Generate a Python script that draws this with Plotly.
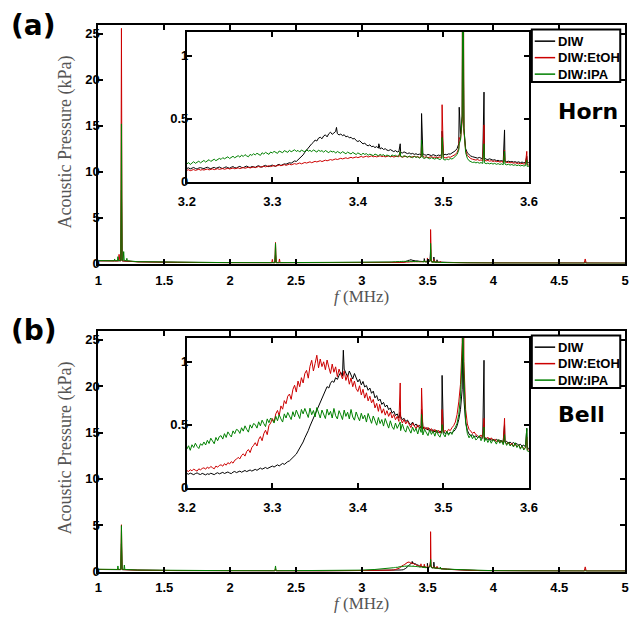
import numpy as np
import plotly.graph_objects as go

W, H = 638, 619

series_names = ["DIW", "DIW:EtOH", "DIW:IPA"]
series_colors = ["#000000", "#cc0000", "#008000"]

# Fine 2 kHz sampling of the 3.2-3.6 MHz window (shared by inset and main plot)
inset_f = np.linspace(3.2, 3.6, 201)

# ---------------- (a) Horn ----------------
# coarse spectrum below / above the fine window, kPa
horn_low_f = [1.0, 1.1, 1.12, 1.123, 1.127, 1.145, 1.148, 1.152, 1.157, 1.163, 1.17, 1.175,
              1.18, 1.188, 1.192, 1.196, 1.212, 1.216, 1.22, 1.3, 1.6, 2.0, 2.316, 2.321,
              2.326, 2.34, 2.345, 2.35, 2.37, 2.375, 2.38, 2.7, 3.0, 3.1]
horn_low_diw = [0.30, 0.26, 0.26, 0.26, 0.26, 0.27, 0.27, 0.27, 0.28, 0.28, 0.30, 8.0,
                0.30, 0.28, 0.28, 0.28, 0.26, 0.26, 0.26, 0.20, 0.13, 0.09, 0.09, 0.09,
                0.09, 0.09, 1.0, 0.09, 0.09, 0.09, 0.09, 0.07, 0.08, 0.09]
horn_low_etoh = [0.30, 0.27, 0.27, 0.27, 0.27, 0.28, 0.28, 0.28, 1.0, 0.28, 0.30, 25.6,
                 0.30, 0.28, 0.28, 0.28, 0.26, 0.26, 0.26, 0.18, 0.12, 0.08, 0.08, 0.45,
                 0.08, 0.08, 2.3, 0.08, 0.08, 0.5, 0.08, 0.07, 0.07, 0.08]
horn_low_ipa = [0.32, 0.30, 0.30, 0.5, 0.30, 0.32, 0.75, 0.32, 0.33, 0.33, 0.35, 15.2,
                0.35, 0.35, 1.3, 0.35, 0.30, 0.57, 0.30, 0.20, 0.14, 0.10, 0.10, 0.10,
                0.10, 0.10, 2.2, 0.10, 0.10, 0.10, 0.10, 0.09, 0.10, 0.12]

horn_high_f = [3.65, 3.7, 3.8, 4.0, 4.3, 4.69, 4.697, 4.705, 5.0]
horn_high_diw = [0.13, 0.10, 0.08, 0.06, 0.05, 0.05, 0.20, 0.05, 0.04]
horn_high_etoh = [0.11, 0.09, 0.07, 0.06, 0.05, 0.05, 0.50, 0.05, 0.04]
horn_high_ipa = [0.10, 0.08, 0.07, 0.05, 0.04, 0.04, 0.04, 0.04, 0.03]

# fine window, Pa
horn_diw_pa = [
    105, 109, 101, 107, 112, 104, 100, 108, 111, 106,
    103, 110, 114, 107, 102, 109, 113, 105, 110, 116,
    108, 104, 112, 117, 110, 106, 114, 119, 111, 108,
    116, 121, 113, 110, 118, 123, 115, 112, 120, 117,
    113, 122, 126, 118, 115, 124, 129, 121, 119, 127,
    131, 124, 122, 133, 137, 128, 134, 141, 138, 145,
    150, 146, 157, 164, 160, 172, 185, 196, 212, 233,
    251, 268, 284, 300, 312, 330, 322, 345, 352, 340,
    362, 371, 355, 380, 392, 375, 386, 398, 381, 370,
    378, 364, 372, 355, 361, 347, 352, 338, 343, 326,
    318, 325, 308, 299, 306, 290, 284, 292, 277, 281,
    270, 278, 266, 259, 268, 255, 261, 250, 246, 254,
    243, 238, 246, 235, 240, 231, 227, 236, 229, 222,
    228, 219, 224, 216, 221, 214, 218, 211, 220, 213,
    209, 216, 212, 206, 214, 208, 203, 211, 207, 215,
    210, 217, 213, 220, 218, 226, 232, 245, 262, 300,
    380, 520, 420, 262, 228, 212, 203, 198, 193, 190,
    186, 192, 184, 180, 187, 178, 175, 181, 172, 170,
    174, 166, 169, 163, 167, 160, 164, 158, 162, 157,
    160, 155, 158, 152, 157, 150, 155, 149, 153, 151,
    150]
horn_etoh_pa = [
    90, 94, 87, 92, 96, 89, 93, 98, 91, 95,
    92, 97, 100, 93, 96, 101, 95, 99, 103, 97,
    100, 104, 98, 102, 106, 100, 104, 108, 102, 106,
    109, 103, 107, 112, 106, 110, 114, 108, 113, 117,
    111, 115, 120, 114, 118, 123, 117, 121, 126, 119,
    123, 128, 122, 127, 132, 126, 130, 135, 129, 134,
    139, 133, 137, 143, 138, 142, 148, 141, 146, 152,
    147, 151, 157, 150, 155, 161, 156, 160, 166, 159,
    164, 170, 165, 169, 175, 170, 174, 180, 175, 179,
    185, 180, 184, 189, 183, 188, 193, 187, 191, 196,
    190, 195, 200, 193, 198, 202, 195, 199, 204, 197,
    201, 196, 200, 205, 198, 202, 196, 200, 204, 197,
    201, 195, 199, 203, 196, 200, 194, 198, 202, 195,
    199, 193, 197, 201, 194, 198, 192, 196, 200, 193,
    197, 190, 194, 198, 191, 195, 189, 193, 196, 190,
    194, 188, 192, 196, 193, 199, 205, 215, 232, 265,
    330, 480, 400, 245, 208, 192, 183, 178, 174, 171,
    175, 168, 172, 166, 170, 164, 168, 162, 166, 160,
    164, 158, 161, 155, 159, 153, 157, 151, 154, 149,
    152, 146, 150, 144, 147, 141, 145, 139, 142, 136,
    131]
horn_ipa_pa = [
    140, 151, 136, 147, 158, 145, 153, 162, 149, 157,
    168, 155, 163, 174, 160, 171, 178, 166, 175, 184,
    176, 190, 181, 188, 197, 183, 193, 201, 189, 198,
    206, 194, 210, 199, 214, 204, 197, 216, 208, 221,
    212, 225, 215, 208, 229, 219, 232, 222, 216, 235,
    227, 240, 231, 224, 243, 236, 229, 246, 238, 232,
    249, 237, 244, 253, 239, 248, 234, 251, 242, 236,
    254, 241, 248, 237, 252, 243, 234, 250, 240, 246,
    233, 247, 238, 229, 244, 235, 241, 226, 239, 231,
    224, 238, 229, 221, 234, 226, 219, 232, 223, 215,
    228, 219, 212, 225, 216, 222, 209, 218, 213, 206,
    219, 211, 205, 216, 208, 214, 202, 211, 206, 199,
    212, 204, 209, 198, 207, 201, 195, 206, 199, 193,
    203, 196, 190, 200, 193, 197, 186, 195, 189, 183,
    194, 187, 181, 190, 184, 178, 188, 180, 175, 184,
    177, 171, 180, 174, 183, 179, 188, 198, 215, 250,
    330, 520, 430, 230, 185, 166, 158, 152, 155, 149,
    153, 146, 151, 144, 149, 142, 147, 141, 146, 139,
    145, 137, 143, 136, 141, 134, 139, 133, 138, 131,
    136, 129, 134, 127, 132, 125, 130, 124, 127, 121,
    122]

# narrow resonance lines inside the window, kPa (None = no line for that liquid)
horn_peak_f = [3.375, 3.4245, 3.4495, 3.4745, 3.4985, 3.5185, 3.5227, 3.5475, 3.5715, 3.5975]
horn_peak_diw = [0.43, 0.30, 0.30, 0.54, 0.40, 0.59, 1.50, 0.71, 0.41, 0.20]
horn_peak_etoh = [None, None, 0.24, 0.30, 0.61, 0.35, 3.70, 0.45, 0.25, 0.24]
horn_peak_ipa = [None, None, 0.24, 0.33, 0.35, 0.30, 2.20, 0.30, 0.24, 0.17]

# ---------------- (b) Bell ----------------
bell_low_f = [1.0, 1.1, 1.145, 1.148, 1.152, 1.17, 1.175, 1.18, 1.193, 1.197, 1.201, 1.3,
              1.6, 2.0, 2.34, 2.345, 2.35, 2.7, 2.9, 3.0, 3.1]
bell_low_diw = [0.22, 0.20, 0.20, 0.20, 0.20, 0.20, 3.0, 0.20, 0.20, 0.20, 0.20, 0.15,
                0.10, 0.08, 0.07, 0.20, 0.07, 0.06, 0.07, 0.08, 0.10]
bell_low_etoh = [0.22, 0.20, 0.20, 0.20, 0.20, 0.22, 5.05, 0.22, 0.20, 0.20, 0.20, 0.15,
                 0.10, 0.08, 0.07, 0.30, 0.07, 0.06, 0.07, 0.08, 0.11]
bell_low_ipa = [0.25, 0.22, 0.22, 0.60, 0.22, 0.24, 4.95, 0.24, 0.22, 0.70, 0.22, 0.16,
                0.11, 0.09, 0.08, 0.60, 0.08, 0.08, 0.10, 0.15, 0.22]

bell_high_f = [3.65, 3.7, 3.8, 3.9, 4.0, 4.3, 4.69, 4.697, 4.705, 5.0]
bell_high_diw = [0.26, 0.20, 0.14, 0.10, 0.08, 0.06, 0.05, 0.20, 0.05, 0.05]
bell_high_etoh = [0.25, 0.20, 0.13, 0.10, 0.08, 0.06, 0.05, 0.50, 0.05, 0.05]
bell_high_ipa = [0.25, 0.22, 0.17, 0.12, 0.09, 0.06, 0.05, 0.05, 0.05, 0.04]

bell_diw_pa = [
    112, 106, 115, 109, 103, 111, 117, 108, 104, 113,
    107, 101, 110, 105, 114, 108, 103, 112, 118, 109,
    115, 121, 112, 118, 124, 116, 111, 123, 128, 119,
    126, 131, 122, 129, 136, 127, 133, 140, 131, 138,
    145, 137, 149, 155, 146, 152, 160, 151, 158, 166,
    171, 163, 175, 181, 172, 186, 192, 184, 199, 206,
    212, 224, 235, 251, 266, 290, 312, 338, 362, 395,
    420, 452, 488, 520, 548, 590, 622, 650, 685, 718,
    752, 775, 801, 790, 828, 846, 835, 872, 858, 890,
    915, 884, 940, 905, 878, 925, 896, 862, 905, 870,
    838, 860, 815, 842, 798, 810, 772, 790, 748, 765,
    712, 730, 688, 702, 660, 676, 640, 655, 618, 632,
    590, 606, 572, 585, 552, 566, 538, 550, 524, 536,
    512, 498, 520, 490, 505, 482, 494, 470, 486, 462,
    476, 455, 468, 448, 460, 441, 456, 436, 450, 432,
    446, 428, 440, 425, 438, 432, 445, 460, 490, 540,
    620, 780, 700, 520, 455, 425, 412, 420, 402, 410,
    398, 406, 391, 400, 384, 395, 380, 390, 376, 386,
    372, 383, 368, 378, 362, 374, 358, 368, 352, 362,
    348, 358, 342, 350, 336, 344, 330, 338, 322, 316,
    310]
bell_etoh_pa = [
    135, 128, 142, 133, 147, 138, 131, 149, 141, 152,
    157, 146, 163, 152, 168, 158, 149, 171, 162, 176,
    181, 170, 190, 178, 198, 188, 206, 194, 217, 225,
    240, 228, 255, 268, 250, 287, 302, 278, 318, 335,
    356, 330, 382, 405, 372, 428, 455, 420, 492, 512,
    548, 520, 585, 612, 570, 648, 622, 690, 665, 725,
    742, 700, 778, 812, 758, 845, 800, 872, 830, 905,
    930, 868, 962, 1010, 925, 985, 1050, 950, 1020, 960,
    998, 935, 1012, 955, 905, 980, 915, 958, 880, 940,
    905, 862, 925, 850, 895, 820, 870, 800, 845, 785,
    762, 808, 735, 780, 710, 752, 688, 725, 672, 700,
    632, 668, 605, 648, 590, 625, 575, 610, 565, 598,
    552, 580, 538, 565, 525, 550, 512, 540, 505, 528,
    500, 476, 512, 485, 468, 498, 472, 490, 462, 482,
    460, 478, 448, 468, 440, 462, 436, 455, 432, 450,
    436, 455, 440, 462, 452, 475, 492, 520, 580, 680,
    820, 1150, 1000, 620, 505, 462, 448, 430, 441, 420,
    412, 398, 418, 392, 405, 384, 400, 378, 395, 372,
    386, 364, 380, 358, 372, 350, 366, 345, 360, 340,
    352, 330, 345, 322, 338, 315, 330, 308, 318, 302,
    298]
bell_ipa_pa = [
    305, 332, 296, 340, 318, 352, 326, 310, 348, 335,
    362, 338, 375, 350, 392, 366, 348, 398, 372, 405,
    412, 385, 428, 398, 442, 420, 402, 450, 428, 462,
    455, 430, 475, 448, 490, 462, 440, 498, 472, 508,
    500, 472, 522, 490, 535, 508, 484, 545, 515, 552,
    538, 512, 566, 530, 578, 545, 520, 585, 552, 596,
    570, 540, 602, 562, 615, 578, 548, 620, 585, 628,
    592, 556, 630, 578, 612, 560, 635, 590, 552, 615,
    580, 548, 622, 575, 605, 552, 628, 570, 545, 610,
    578, 540, 615, 565, 598, 545, 620, 560, 535, 600,
    562, 530, 590, 545, 575, 520, 588, 540, 510, 568,
    525, 495, 556, 508, 540, 488, 548, 500, 472, 530,
    485, 462, 512, 470, 498, 452, 505, 462, 440, 490,
    455, 432, 480, 445, 470, 425, 478, 438, 418, 462,
    435, 412, 458, 422, 448, 408, 455, 418, 400, 445,
    425, 402, 448, 415, 440, 422, 460, 478, 510, 580,
    720, 1050, 900, 520, 430, 395, 420, 388, 410, 378,
    390, 412, 372, 398, 365, 392, 358, 385, 352, 380,
    370, 345, 382, 352, 375, 340, 368, 335, 360, 330,
    345, 322, 356, 318, 340, 305, 332, 298, 318, 292,
    285]

bell_peak_f = [3.383, 3.4255, 3.4495, 3.4745, 3.4985, 3.5227, 3.5475, 3.5715, 3.5975]
bell_peak_diw = [1.09, None, 0.60, 0.62, 0.89, 1.25, 1.01, 0.50, 0.47]
bell_peak_etoh = [None, 0.66, 0.83, 0.79, 0.62, 4.30, 0.55, 0.55, 0.40]
bell_peak_ipa = [None, None, 0.52, 0.58, 0.50, 1.30, 0.48, 0.42, 0.47]


def spectrum(low_f, low_v, window_pa, peak_f, peak_v, high_f, high_v):
    """Join the coarse low band, the finely sampled window (with its narrow
    resonance lines) and the coarse high band into one spectrum in kPa."""
    pts = [(f, v / 1000.0) for f, v in zip(inset_f, window_pa)]
    pts += [(f, v) for f, v in zip(peak_f, peak_v) if v is not None]
    pts.sort()
    mid_f, mid_v = zip(*pts)
    return (list(low_f) + list(mid_f) + list(high_f),
            list(low_v) + list(mid_v) + list(high_v))


panels = [
    dict(low_f=horn_low_f, high_f=horn_high_f, peak_f=horn_peak_f,
         series=[(horn_low_diw, horn_diw_pa, horn_peak_diw, horn_high_diw),
                 (horn_low_etoh, horn_etoh_pa, horn_peak_etoh, horn_high_etoh),
                 (horn_low_ipa, horn_ipa_pa, horn_peak_ipa, horn_high_ipa)]),
    dict(low_f=bell_low_f, high_f=bell_high_f, peak_f=bell_peak_f,
         series=[(bell_low_diw, bell_diw_pa, bell_peak_diw, bell_high_diw),
                 (bell_low_etoh, bell_etoh_pa, bell_peak_etoh, bell_high_etoh),
                 (bell_low_ipa, bell_ipa_pa, bell_peak_ipa, bell_high_ipa)]),
]


def px(x):
    return x / W


def py(y):
    return 1 - y / H


fig = go.Figure()

# axis ids: main (a) x/y, main (b) x2/y2, inset (a) x3/y3, inset (b) x4/y4
for p, panel in enumerate(panels):
    main_ax = ("x", "y") if p == 0 else ("x2", "y2")
    inset_ax = ("x3", "y3") if p == 0 else ("x4", "y4")
    for k, (lo, window, pk, hi) in enumerate(panel["series"]):
        f, v = spectrum(panel["low_f"], lo, window, panel["peak_f"], pk, panel["high_f"], hi)
        for ax in (main_ax, inset_ax):
            fig.add_trace(go.Scatter(
                x=f, y=v, mode="lines", name=series_names[k],
                line=dict(color=series_colors[k], width=1),
                xaxis=ax[0], yaxis=ax[1], showlegend=False, hoverinfo="skip"))

tick_font = dict(family="Liberation Sans, Arial, sans-serif", size=13, color="black", weight="bold")
axis_style = dict(showline=True, linecolor="black", linewidth=2, mirror="ticks",
                  ticks="inside", ticklen=5, tickwidth=2, tickcolor="black",
                  showgrid=False, zeroline=False, tickfont=tick_font, fixedrange=True)

main_xdom = [px(92), px(634)]
inset_xdom = [px(183), px(535)]
main_ydoms = [[py(267), py(25)], [py(579), py(335)]]
inset_ydoms = [[py(184), py(32)], [py(494), py(342)]]

fig.update_layout(
    xaxis=dict(domain=main_xdom, range=[1, 5], tick0=1, dtick=0.5, anchor="y",
               ticklabelstandoff=4, **axis_style),
    yaxis=dict(domain=main_ydoms[0], range=[0, 26], tick0=0, dtick=5, anchor="x",
               ticklabelstandoff=-6, **axis_style),
    xaxis2=dict(domain=main_xdom, range=[1, 5], tick0=1, dtick=0.5, anchor="y2",
                ticklabelstandoff=3, **axis_style),
    yaxis2=dict(domain=main_ydoms[1], range=[0, 26], tick0=0, dtick=5, anchor="x2",
                ticklabelstandoff=-6, **axis_style),
    xaxis3=dict(domain=inset_xdom, range=[3.2, 3.6], tick0=3.2, dtick=0.1, anchor="y3",
                ticklabelstandoff=7, **axis_style),
    yaxis3=dict(domain=inset_ydoms[0], range=[0, 1.19], tick0=0, dtick=0.5, anchor="x3",
                ticklabelstandoff=-6, **axis_style),
    xaxis4=dict(domain=inset_xdom, range=[3.2, 3.6], tick0=3.2, dtick=0.1, anchor="y4",
                ticklabelstandoff=7, **axis_style),
    yaxis4=dict(domain=inset_ydoms[1], range=[0, 1.19], tick0=0, dtick=0.5, anchor="x4",
                ticklabelstandoff=-6, **axis_style),
)

annotations = []
shapes = []
panel_tags = ["(a)", "(b)"]
panel_names = ["Horn", "Bell"]
serif = dict(family="Liberation Serif, Times New Roman, serif", size=18, color="#555555")
title_y = [300, 611]

for p in range(2):
    dy = 310 * p
    annotations.append(dict(text=panel_tags[p], x=px(0), y=py(26 + dy - (1 if p else 0)),
                            xref="paper", yref="paper",
                            xanchor="left", yanchor="middle", showarrow=False,
                            font=dict(family="DejaVu Sans", size=28, color="black", weight="bold")))
    annotations.append(dict(text=panel_names[p], x=px(563), y=py(113 + dy - (3 if p else 0)),
                            xref="paper", yref="paper", xanchor="left", yanchor="middle",
                            showarrow=False,
                            font=dict(family="DejaVu Sans", size=22, color="black", weight="bold")))
    annotations.append(dict(text="Acoustic Pressure (kPa)", x=px(58), y=py(144 + dy),
                            xref="paper", yref="paper", xanchor="center", yanchor="middle",
                            textangle=-90, showarrow=False, font=serif))
    annotations.append(dict(text="<i>f</i> (MHz)", x=px(363), y=py(title_y[p]),
                            xref="paper", yref="paper", xanchor="center", yanchor="middle",
                            showarrow=False, font=dict(serif, size=17)))
    # legend box with line samples
    shapes.append(dict(type="rect", xref="paper", yref="paper",
                       x0=px(538), x1=px(629), y0=py(30 + dy), y1=py(83 + dy),
                       line=dict(color="black", width=2), fillcolor="white", layer="above"))
    for k in range(3):
        yy = 41.7 + 16.7 * k + dy
        shapes.append(dict(type="line", xref="paper", yref="paper",
                           x0=px(541), x1=px(562), y0=py(yy), y1=py(yy),
                           line=dict(color=series_colors[k], width=1.5), layer="above"))
        annotations.append(dict(text=series_names[k], x=px(563), y=py(yy), xref="paper", yref="paper",
                                xanchor="left", yanchor="middle", showarrow=False,
                                font=dict(family="Liberation Sans, Arial, sans-serif", size=13,
                                          color="black", weight="bold")))

fig.update_layout(
    width=W, height=H,
    margin=dict(l=0, r=0, t=0, b=0, pad=0),
    paper_bgcolor="white", plot_bgcolor="white",
    showlegend=False,
    annotations=annotations, shapes=shapes,
)

fig.write_html("out.html")
